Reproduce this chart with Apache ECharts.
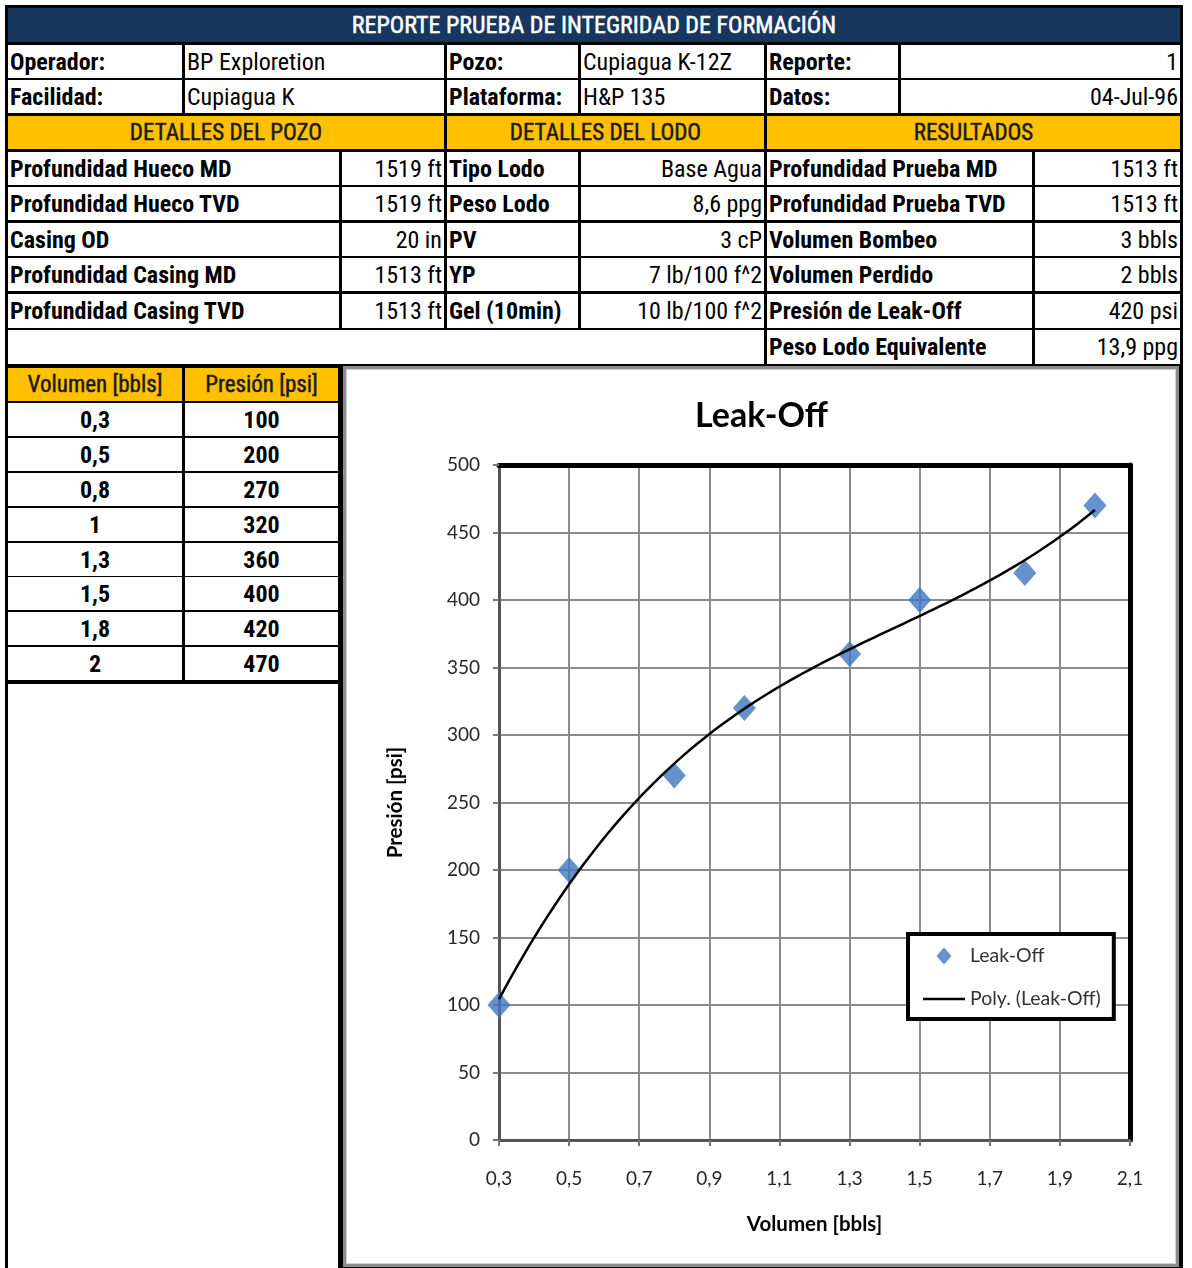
<!DOCTYPE html>
<html><head><meta charset="utf-8">
<script src="https://cdn.jsdelivr.net/npm/echarts@6/dist/echarts.min.js"></script>
<style>
html,body{margin:0;padding:0;background:#fff;}
#page{position:absolute;left:0;top:0;width:1192px;height:1268px;overflow:hidden;background:#fff;}
#frame{position:absolute;left:5px;top:5px;width:1178px;height:1270px;background:#000;}
.c{position:absolute;box-sizing:border-box;background:#fff;font-family:"Roboto Condensed","Liberation Sans Narrow","Arial Narrow",sans-serif;font-size:24px;color:#000;display:flex;align-items:center;white-space:nowrap;overflow:hidden;padding:0 2px;line-height:1;}
.b{font-weight:bold;}
.r{justify-content:flex-end;}
.m{justify-content:center;}
.y{background:#FFC000;color:#1a1a1a;font-size:23px;-webkit-text-stroke:0.45px #1a1a1a;}
.t{background:#17375E;color:#fff;font-size:24px;-webkit-text-stroke:0.5px #fff;}
#chart{position:absolute;left:345px;top:368px;width:833px;height:898px;background:#fff;}
#cborder{position:absolute;left:343px;top:366px;width:836px;height:901px;box-sizing:border-box;border:3px solid #8c8c8c;box-shadow:inset 0 0 0 1px #d0d0d0;pointer-events:none;}
</style></head>
<body>
<div id="page"><div id="frame"></div></div>
<div id="chart"></div>
<div id="cborder"></div>
<script>
// ---------- report data ----------
var reportTitle = "REPORTE PRUEBA DE INTEGRIDAD DE FORMACIÓN";
var headerLabels = ["Operador:", "Pozo:", "Reporte:", "Facilidad:", "Plataforma:", "Datos:"];
var headerValues = ["BP Exploretion", "Cupiagua K-12Z", "1", "Cupiagua K", "H&P 135", "04-Jul-96"];
var sectionTitles = ["DETALLES DEL POZO", "DETALLES DEL LODO", "RESULTADOS"];
var pozoLabels = ["Profundidad Hueco MD", "Profundidad Hueco TVD", "Casing OD", "Profundidad Casing MD", "Profundidad Casing TVD"];
var pozoValues = ["1519 ft", "1519 ft", "20 in", "1513 ft", "1513 ft"];
var lodoLabels = ["Tipo Lodo", "Peso Lodo", "PV", "YP", "Gel (10min)"];
var lodoValues = ["Base Agua", "8,6 ppg", "3 cP", "7 lb/100 f^2", "10 lb/100 f^2"];
var resLabels = ["Profundidad Prueba MD", "Profundidad Prueba TVD", "Volumen Bombeo", "Volumen Perdido", "Presión de Leak-Off", "Peso Lodo Equivalente"];
var resValues = ["1513 ft", "1513 ft", "3 bbls", "2 bbls", "420 psi", "13,9 ppg"];
var tableHeaders = ["Volumen [bbls]", "Presión [psi]"];

// ---------- chart data ----------
var volumen = [0.3, 0.5, 0.8, 1, 1.3, 1.5, 1.8, 2];
var presion = [100, 200, 270, 320, 360, 400, 420, 470];
var xTicks = [0.3, 2.1, 0.2];   // min, max, interval
var yTicks = [0, 500, 50];
var chartTitle = "Leak-Off";
var seriesNames = ["Leak-Off", "Poly. (Leak-Off)"];
var axisNames = ["Volumen [bbls]", "Presión [psi]"];

function fmt(v){ return String(v).replace('.', ','); }

// ---------- table layout ----------
var page = document.getElementById('page');
function cell(x1, y1, x2, y2, text, cls){
  var d = document.createElement('div');
  d.className = 'c ' + (cls || '');
  d.style.left = x1 + 'px'; d.style.top = y1 + 'px';
  d.style.width = (x2 - x1) + 'px'; d.style.height = (y2 - y1) + 'px';
  d.textContent = text || '';
  page.appendChild(d);
  return d;
}
cell(8, 8, 1180, 42, reportTitle, 't m');
var hr = [[45,78],[80,113]];
var hc = [[8,182],[185,444],[447,578],[581,764],[767,898],[901,1180]];
for (var r = 0; r < 2; r++){
  for (var k = 0; k < 3; k++){
    cell(hc[2*k][0], hr[r][0], hc[2*k][1], hr[r][1], headerLabels[r*3+k], 'b');
    cell(hc[2*k+1][0], hr[r][0], hc[2*k+1][1], hr[r][1], headerValues[r*3+k], k === 2 ? 'r' : '');
  }
}
var sc = [[8,444],[447,764],[767,1180]];
for (var s = 0; s < 3; s++) cell(sc[s][0], 116, sc[s][1], 149, sectionTitles[s], 'y m');
var dr = [[152,185],[187,220],[223,256],[258,291],[294,328],[330,364]];
var dc = [[8,339],[342,444],[447,578],[581,764],[767,1032],[1035,1180]];
for (var i = 0; i < 6; i++){
  if (i < 5){
    cell(dc[0][0], dr[i][0], dc[0][1], dr[i][1], pozoLabels[i], 'b');
    cell(dc[1][0], dr[i][0], dc[1][1], dr[i][1], pozoValues[i], 'r');
    cell(dc[2][0], dr[i][0], dc[2][1], dr[i][1], lodoLabels[i], 'b');
    cell(dc[3][0], dr[i][0], dc[3][1], dr[i][1], lodoValues[i], 'r');
  } else {
    cell(8, dr[i][0], 764, dr[i][1], '', '');
  }
  cell(dc[4][0], dr[i][0], dc[4][1], dr[i][1], resLabels[i], 'b');
  cell(dc[5][0], dr[i][0], dc[5][1], dr[i][1], resValues[i], 'r');
}
cell(8, 368, 182, 401, tableHeaders[0], 'y m');
cell(185, 368, 338, 401, tableHeaders[1], 'y m');
var ly = [403, 438, 473, 508, 543, 577, 612, 647];
for (var j = 0; j < volumen.length; j++){
  cell(8, ly[j], 182, ly[j] + 33, fmt(volumen[j]), 'b m');
  cell(185, ly[j], 338, ly[j] + 33, fmt(presion[j]), 'b m');
}
cell(8, 684, 338, 1268, '', '');

// ---------- cubic trendline (least squares, like Excel "Poly." order 3) ----------
function polyFit(xs, ys, order){
  var n = order + 1, A = [], b = [];
  for (var r = 0; r < n; r++){
    A.push([]); b.push(0);
    for (var c = 0; c < n; c++){
      var s = 0; for (var i = 0; i < xs.length; i++) s += Math.pow(xs[i], r + c);
      A[r].push(s);
    }
    for (var i2 = 0; i2 < xs.length; i2++) b[r] += ys[i2] * Math.pow(xs[i2], r);
  }
  for (var p = 0; p < n; p++){
    var mx = p; for (var q = p + 1; q < n; q++) if (Math.abs(A[q][p]) > Math.abs(A[mx][p])) mx = q;
    var t = A[p]; A[p] = A[mx]; A[mx] = t; var tb = b[p]; b[p] = b[mx]; b[mx] = tb;
    for (var q2 = p + 1; q2 < n; q2++){
      var f = A[q2][p] / A[p][p];
      for (var c2 = p; c2 < n; c2++) A[q2][c2] -= f * A[p][c2];
      b[q2] -= f * b[p];
    }
  }
  var coef = new Array(n);
  for (var p2 = n - 1; p2 >= 0; p2--){
    var s2 = b[p2]; for (var c3 = p2 + 1; c3 < n; c3++) s2 -= A[p2][c3] * coef[c3];
    coef[p2] = s2 / A[p2][p2];
  }
  return coef;
}
var coef = polyFit(volumen, presion, 3);
var trend = [];
var x0 = volumen[0], x1 = volumen[volumen.length - 1];
for (var k2 = 0; k2 <= 100; k2++){
  var xv = x0 + (x1 - x0) * k2 / 100, yv = 0;
  for (var c4 = 0; c4 < coef.length; c4++) yv += coef[c4] * Math.pow(xv, c4);
  trend.push([xv, yv]);
}
var scatterData = volumen.map(function(v, i){ return [v, presion[i]]; });

// ---------- chart ----------
var chart = echarts.init(document.getElementById('chart'), null, {renderer: 'canvas'});
var font = 'Lato';
var diamondIcon = 'path://M0,0M42,18M21,0.5L28.5,9L21,17.5L13.5,9Z';
var lineIcon = 'path://M0,0M42,18M0,7.8L42,7.8L42,10.2L0,10.2Z';
chart.setOption({
  animation: false,
  backgroundColor: '#fff',
  title: {text: chartTitle, left: 'center', top: 26,
    textStyle: {fontFamily: font, fontSize: 34, fontWeight: 'bold', color: '#000'}},
  grid: {left: 154, top: 97, width: 631, height: 675, show: false},
  legend: {
    orient: 'vertical', left: 563, top: 566,
    padding: [12, 13, 10, 15], itemGap: 23, itemWidth: 42, itemHeight: 18,
    borderColor: '#000', borderWidth: 4, backgroundColor: '#fff',
    textStyle: {fontFamily: font, fontSize: 19.5, color: '#333'},
    data: [
      {name: seriesNames[0], icon: diamondIcon, itemStyle: {color: '#3f77bf'}},
      {name: seriesNames[1], icon: lineIcon, itemStyle: {color: '#000'}}
    ]
  },
  xAxis: [{
    type: 'value', min: xTicks[0], max: xTicks[1], interval: xTicks[2],
    name: axisNames[0], nameLocation: 'middle', nameGap: 74,
    nameTextStyle: {fontFamily: font, fontSize: 20.5, fontWeight: 'bold', color: '#000'},
    axisLine: {show: true, onZero: false, lineStyle: {color: '#555', width: 3}},
    axisTick: {show: true, length: 6, lineStyle: {color: '#777', width: 2}},
    axisLabel: {margin: 29, fontFamily: font, fontSize: 19, color: '#262626',
      formatter: function(v){ return v.toFixed(1).replace('.', ','); }},
    splitLine: {show: true, lineStyle: {color: '#8c8c8c', width: 2}}
  }, {
    type: 'value', position: 'top', min: xTicks[0], max: xTicks[1], interval: xTicks[2],
    axisLine: {show: true, onZero: false, lineStyle: {color: '#000', width: 5}},
    axisTick: {show: false}, axisLabel: {show: false}, splitLine: {show: false}
  }],
  yAxis: [{
    type: 'value', min: yTicks[0], max: yTicks[1], interval: yTicks[2],
    name: axisNames[1], nameLocation: 'middle', nameGap: 93,
    nameTextStyle: {fontFamily: font, fontSize: 20.5, fontWeight: 'bold', color: '#000'},
    axisLine: {show: true, onZero: false, lineStyle: {color: '#555', width: 3}},
    axisTick: {show: true, length: 6, lineStyle: {color: '#777', width: 2}},
    axisLabel: {margin: 19, fontFamily: font, fontSize: 19, color: '#262626'},
    splitLine: {show: true, lineStyle: {color: '#8c8c8c', width: 2}}
  }, {
    type: 'value', position: 'right', min: yTicks[0], max: yTicks[1], interval: yTicks[2],
    axisLine: {show: true, onZero: false, lineStyle: {color: '#000', width: 5}},
    axisTick: {show: false}, axisLabel: {show: false}, splitLine: {show: false}
  }],
  series: [{
    name: seriesNames[0], type: 'scatter', data: scatterData, z: 3,
    symbol: 'diamond', symbolSize: [23, 26],
    itemStyle: {color: '#3f77bf'}
  }, {
    name: seriesNames[1], type: 'line', data: trend, z: 4,
    showSymbol: false, symbol: 'none', smooth: false,
    lineStyle: {color: '#000', width: 2.5}
  }]
});
</script>
</body></html>
